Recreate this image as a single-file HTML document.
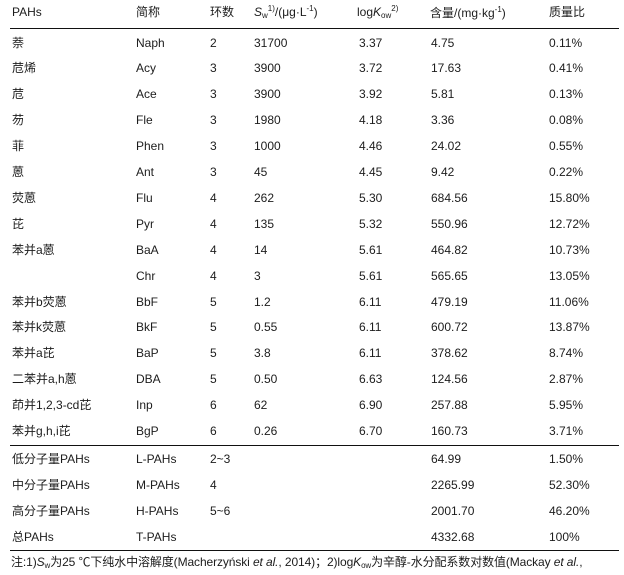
<!DOCTYPE html>
<html><head><meta charset="utf-8">
<style>
html,body{margin:0;padding:0;background:#fff;}
body{width:624px;height:575px;position:relative;overflow:hidden;
font-family:"Liberation Sans","Noto Sans CJK SC",sans-serif;font-size:12px;color:#1c1c1c;}
.t{position:absolute;white-space:nowrap;line-height:14px;}
.l{position:absolute;left:10px;width:609px;height:1px;background:#111;}
sub,sup{font-size:8px;line-height:0;}
sup{vertical-align:5px;}
sub{vertical-align:-2px;}
i{font-style:italic;}
</style></head><body>

<div class="t" style="left:12px;top:5px">PAHs</div>
<div class="t" style="left:136px;top:5px">简称</div>
<div class="t" style="left:210px;top:5px">环数</div>
<div class="t" style="left:254px;top:5px"><i>S</i><sub>w</sub><sup>1)</sup>/(μg·L<sup>-1</sup>)</div>
<div class="t" style="left:357px;top:5px">log<i>K</i><sub>ow</sub><sup>2)</sup></div>
<div class="t" style="left:430px;top:6px">含量/(mg·kg<sup>-1</sup>)</div>
<div class="t" style="left:549px;top:5px">质量比</div>

<div class="l" style="top:28px"></div>

<div id="rows"></div>

<div class="t" style="left:12px;top:36px">萘</div><div class="t" style="left:136px;top:36px">Naph</div><div class="t" style="left:210px;top:36px">2</div><div class="t" style="left:254px;top:36px">31700</div><div class="t" style="left:359px;top:36px">3.37</div><div class="t" style="left:431px;top:36px">4.75</div><div class="t" style="left:549px;top:36px">0.11%</div>
<div class="t" style="left:12px;top:61px">苊烯</div><div class="t" style="left:136px;top:61px">Acy</div><div class="t" style="left:210px;top:61px">3</div><div class="t" style="left:254px;top:61px">3900</div><div class="t" style="left:359px;top:61px">3.72</div><div class="t" style="left:431px;top:61px">17.63</div><div class="t" style="left:549px;top:61px">0.41%</div>
<div class="t" style="left:12px;top:87px">苊</div><div class="t" style="left:136px;top:87px">Ace</div><div class="t" style="left:210px;top:87px">3</div><div class="t" style="left:254px;top:87px">3900</div><div class="t" style="left:359px;top:87px">3.92</div><div class="t" style="left:431px;top:87px">5.81</div><div class="t" style="left:549px;top:87px">0.13%</div>
<div class="t" style="left:12px;top:113px">芴</div><div class="t" style="left:136px;top:113px">Fle</div><div class="t" style="left:210px;top:113px">3</div><div class="t" style="left:254px;top:113px">1980</div><div class="t" style="left:359px;top:113px">4.18</div><div class="t" style="left:431px;top:113px">3.36</div><div class="t" style="left:549px;top:113px">0.08%</div>
<div class="t" style="left:12px;top:139px">菲</div><div class="t" style="left:136px;top:139px">Phen</div><div class="t" style="left:210px;top:139px">3</div><div class="t" style="left:254px;top:139px">1000</div><div class="t" style="left:359px;top:139px">4.46</div><div class="t" style="left:431px;top:139px">24.02</div><div class="t" style="left:549px;top:139px">0.55%</div>
<div class="t" style="left:12px;top:165px">蒽</div><div class="t" style="left:136px;top:165px">Ant</div><div class="t" style="left:210px;top:165px">3</div><div class="t" style="left:254px;top:165px">45</div><div class="t" style="left:359px;top:165px">4.45</div><div class="t" style="left:431px;top:165px">9.42</div><div class="t" style="left:549px;top:165px">0.22%</div>
<div class="t" style="left:12px;top:191px">荧蒽</div><div class="t" style="left:136px;top:191px">Flu</div><div class="t" style="left:210px;top:191px">4</div><div class="t" style="left:254px;top:191px">262</div><div class="t" style="left:359px;top:191px">5.30</div><div class="t" style="left:431px;top:191px">684.56</div><div class="t" style="left:549px;top:191px">15.80%</div>
<div class="t" style="left:12px;top:217px">芘</div><div class="t" style="left:136px;top:217px">Pyr</div><div class="t" style="left:210px;top:217px">4</div><div class="t" style="left:254px;top:217px">135</div><div class="t" style="left:359px;top:217px">5.32</div><div class="t" style="left:431px;top:217px">550.96</div><div class="t" style="left:549px;top:217px">12.72%</div>
<div class="t" style="left:12px;top:243px">苯并a蒽</div><div class="t" style="left:136px;top:243px">BaA</div><div class="t" style="left:210px;top:243px">4</div><div class="t" style="left:254px;top:243px">14</div><div class="t" style="left:359px;top:243px">5.61</div><div class="t" style="left:431px;top:243px">464.82</div><div class="t" style="left:549px;top:243px">10.73%</div>
<div class="t" style="left:136px;top:269px">Chr</div><div class="t" style="left:210px;top:269px">4</div><div class="t" style="left:254px;top:269px">3</div><div class="t" style="left:359px;top:269px">5.61</div><div class="t" style="left:431px;top:269px">565.65</div><div class="t" style="left:549px;top:269px">13.05%</div>
<div class="t" style="left:12px;top:295px">苯并b荧蒽</div><div class="t" style="left:136px;top:295px">BbF</div><div class="t" style="left:210px;top:295px">5</div><div class="t" style="left:254px;top:295px">1.2</div><div class="t" style="left:359px;top:295px">6.11</div><div class="t" style="left:431px;top:295px">479.19</div><div class="t" style="left:549px;top:295px">11.06%</div>
<div class="t" style="left:12px;top:320px">苯并k荧蒽</div><div class="t" style="left:136px;top:320px">BkF</div><div class="t" style="left:210px;top:320px">5</div><div class="t" style="left:254px;top:320px">0.55</div><div class="t" style="left:359px;top:320px">6.11</div><div class="t" style="left:431px;top:320px">600.72</div><div class="t" style="left:549px;top:320px">13.87%</div>
<div class="t" style="left:12px;top:346px">苯并a芘</div><div class="t" style="left:136px;top:346px">BaP</div><div class="t" style="left:210px;top:346px">5</div><div class="t" style="left:254px;top:346px">3.8</div><div class="t" style="left:359px;top:346px">6.11</div><div class="t" style="left:431px;top:346px">378.62</div><div class="t" style="left:549px;top:346px">8.74%</div>
<div class="t" style="left:12px;top:372px">二苯并a,h蒽</div><div class="t" style="left:136px;top:372px">DBA</div><div class="t" style="left:210px;top:372px">5</div><div class="t" style="left:254px;top:372px">0.50</div><div class="t" style="left:359px;top:372px">6.63</div><div class="t" style="left:431px;top:372px">124.56</div><div class="t" style="left:549px;top:372px">2.87%</div>
<div class="t" style="left:12px;top:398px">茚并1,2,3-cd芘</div><div class="t" style="left:136px;top:398px">Inp</div><div class="t" style="left:210px;top:398px">6</div><div class="t" style="left:254px;top:398px">62</div><div class="t" style="left:359px;top:398px">6.90</div><div class="t" style="left:431px;top:398px">257.88</div><div class="t" style="left:549px;top:398px">5.95%</div>
<div class="t" style="left:12px;top:424px">苯并g,h,i芘</div><div class="t" style="left:136px;top:424px">BgP</div><div class="t" style="left:210px;top:424px">6</div><div class="t" style="left:254px;top:424px">0.26</div><div class="t" style="left:359px;top:424px">6.70</div><div class="t" style="left:431px;top:424px">160.73</div><div class="t" style="left:549px;top:424px">3.71%</div>

<div class="l" style="top:445px"></div>

<div class="t" style="left:12px;top:452px">低分子量PAHs</div><div class="t" style="left:136px;top:452px">L-PAHs</div><div class="t" style="left:210px;top:452px">2~3</div><div class="t" style="left:431px;top:452px">64.99</div><div class="t" style="left:549px;top:452px">1.50%</div>
<div class="t" style="left:12px;top:478px">中分子量PAHs</div><div class="t" style="left:136px;top:478px">M-PAHs</div><div class="t" style="left:210px;top:478px">4</div><div class="t" style="left:431px;top:478px">2265.99</div><div class="t" style="left:549px;top:478px">52.30%</div>
<div class="t" style="left:12px;top:504px">高分子量PAHs</div><div class="t" style="left:136px;top:504px">H-PAHs</div><div class="t" style="left:210px;top:504px">5~6</div><div class="t" style="left:431px;top:504px">2001.70</div><div class="t" style="left:549px;top:504px">46.20%</div>
<div class="t" style="left:12px;top:530px">总PAHs</div><div class="t" style="left:136px;top:530px">T-PAHs</div><div class="t" style="left:431px;top:530px">4332.68</div><div class="t" style="left:549px;top:530px">100%</div>

<div class="l" style="top:550px"></div>

<div class="t" style="left:11px;top:555px;letter-spacing:-0.1px">注:1)<i>S</i><sub>w</sub>为25 ℃下纯水中溶解度(Macherzyński <i>et al.</i>, 2014)；2)log<i>K</i><sub>ow</sub>为辛醇-水分配系数对数值(Mackay <i>et al.</i>,</div>

</body></html>
